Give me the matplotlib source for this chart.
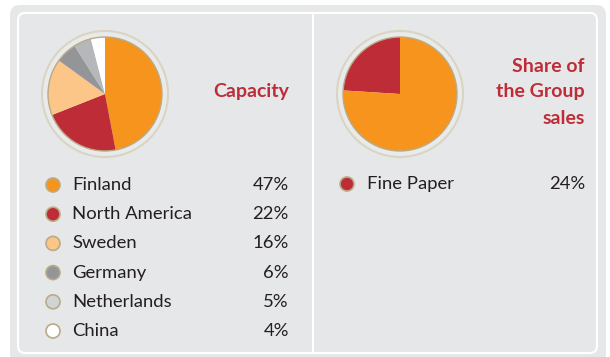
import matplotlib
matplotlib.use("Agg")
import matplotlib.pyplot as plt
from matplotlib.patches import FancyBboxPatch, Circle

# Capacity by country
countries = ["Finland", "North America", "Sweden", "Germany", "Netherlands", "China"]
capacity = [47, 22, 16, 6, 5, 4]
capacity_colors = ["#f7941d", "#be2d37", "#fdc689", "#939598", "#b5b7ba", "#ffffff"]
legend_colors = ["#f7941d", "#be2d37", "#fdc689", "#939598", "#d1d3d4", "#ffffff"]

# Share of the Group sales
segments = ["Fine Paper"]
sales_share = [24]
sales_colors = ["#be2d37", "#f7941d"]

W, H = 610, 357
BG = "#e6e7e8"
TITLE = "#be2d37"
TEXT = "#231f20"
EDGE = "#b8ab85"
FONT = "Lato"

fig = plt.figure(figsize=(W / 100, H / 100), dpi=100)
ax = fig.add_axes([0, 0, 1, 1])


def Y(y):
    return H - y


# Frame
ax.add_patch(FancyBboxPatch((10, Y(365)), 596, 360, boxstyle="round,pad=0,rounding_size=10",
                            fc=BG, ec="none", zorder=0))
ax.add_patch(FancyBboxPatch((18, Y(353)), 579, 340, boxstyle="round,pad=0,rounding_size=7",
                            fc=BG, ec="white", lw=1.5, zorder=1))
ax.plot([313, 313], [Y(13), Y(353)], color="white", lw=1.5, zorder=1)


def ring_pie(cx, cy, values, colors, direction):
    ax.add_patch(Circle((cx, Y(cy)), 63, fc="#e9eaeb", ec="#dad4c2", lw=1.5, zorder=2))
    ax.pie(values, colors=colors, startangle=90, counterclock=direction,
           center=(cx, Y(cy)), radius=57,
           wedgeprops=dict(linewidth=0, zorder=3))
    ax.add_patch(Circle((cx, Y(cy)), 57, fc="none", ec="#b8ab85", lw=1.0, zorder=4))


ring_pie(105, 94, capacity, capacity_colors, False)
ring_pie(400, 94, [sales_share[0], 100 - sales_share[0]], sales_colors, True)

# Titles
ax.text(289, Y(92), "Capacity", ha="right", va="center", color=TITLE,
        fontsize=14, fontweight="bold", family=FONT, zorder=5)
for i, line in enumerate(["Share of", "the Group", "sales"]):
    ax.text(585, Y(66 + 26 * i), line, ha="right", va="center", color=TITLE,
            fontsize=14, fontweight="bold", family=FONT, zorder=5)

# Legends
row_gap = 29.2
for i, (name, val, col) in enumerate(zip(countries, capacity, legend_colors)):
    y = Y(185 + row_gap * i)
    ax.add_patch(Circle((53, y), 7, fc=col, ec=EDGE, lw=1.2, zorder=5))
    ax.text(72, y, name, ha="left", va="center", color=TEXT, fontsize=13.3, family=FONT, zorder=5)
    ax.text(289, y, f"{val}%", ha="right", va="center", color=TEXT, fontsize=13.3, family=FONT, zorder=5)

for i, (name, val) in enumerate(zip(segments, sales_share)):
    y = Y(184 + row_gap * i)
    ax.add_patch(Circle((347, y), 7, fc=sales_colors[i], ec=EDGE, lw=1.2, zorder=5))
    ax.text(367, y, name, ha="left", va="center", color=TEXT, fontsize=13.3, family=FONT, zorder=5)
    ax.text(585, y, f"{val}%", ha="right", va="center", color=TEXT, fontsize=13.3, family=FONT, zorder=5)

ax.set_xlim(0, W)
ax.set_ylim(0, H)
ax.set_aspect("auto")
ax.axis("off")
fig.savefig("out.png", dpi=100, facecolor="white")
